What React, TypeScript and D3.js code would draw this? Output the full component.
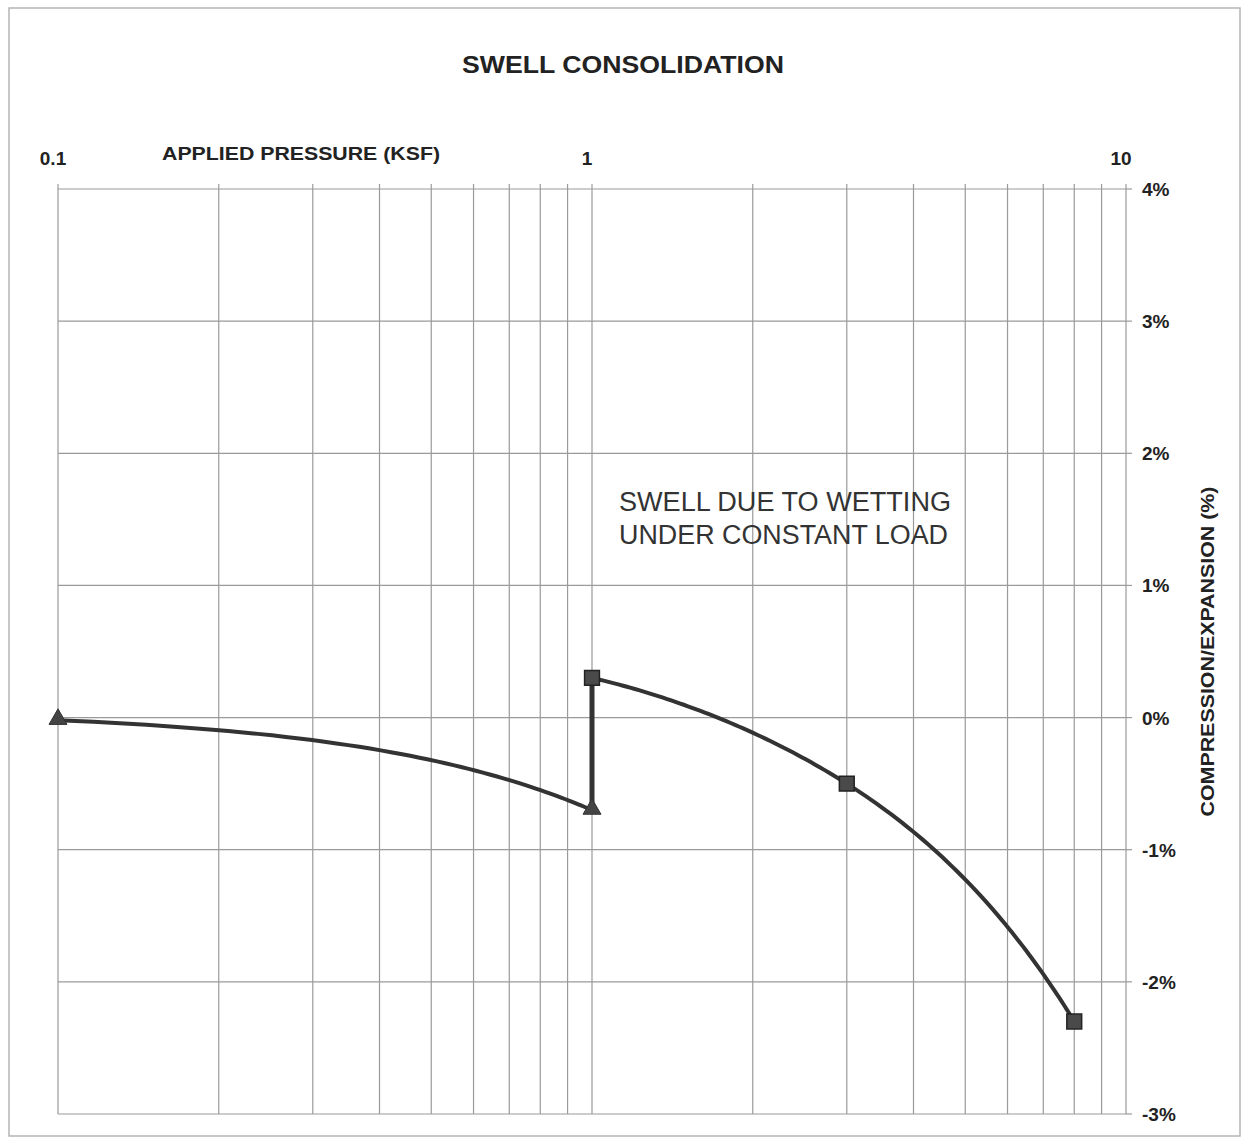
import React from "react";
import * as d3 from "d3";

const title = "SWELL CONSOLIDATION";
const xAxisTitle = "APPLIED PRESSURE (KSF)";
const yAxisTitle = "COMPRESSION/EXPANSION (%)";
const annotationLines = ["SWELL DUE TO WETTING", "UNDER CONSTANT LOAD"];

const xTickLabels = [0.1, 1, 10];
const yTickValues = [4, 3, 2, 1, 0, -1, -2, -3];

// Loading before wetting (triangles)
const dryPressure = [0.1, 1.0];
const dryStrain = [-0.02, -0.7];
// After wetting (squares)
const wetPressure = [1.0, 3.0, 8.0];
const wetStrain = [0.3, -0.5, -2.3];

const W = 1244;
const H = 1140;
const left = 58;
const right = 1126;
const top = 189;
const bottom = 1114;

const x = d3.scaleLog().domain([0.1, 10]).range([left, right]);
const y = d3.scaleLinear().domain([-3, 4]).range([bottom, top]);

// Catmull-Rom smoothing evaluated in linear data space (as the original plot was drawn), then projected
function smoothPath(px: number[], py: number[]): string {
  const pts: [number, number][] = px.map((p, i) => [p, py[i]]);
  const out: [number, number][] = [];
  const n = pts.length;
  if (n < 2) return "";
  for (let i = 0; i < n - 1; i++) {
    const p0 = pts[Math.max(0, i - 1)];
    const p1 = pts[i];
    const p2 = pts[i + 1];
    const p3 = pts[Math.min(n - 1, i + 2)];
    const steps = 60;
    for (let s = 0; s <= steps; s++) {
      if (i > 0 && s === 0) continue;
      const t = s / steps;
      const t2 = t * t;
      const t3 = t2 * t;
      const f = (a: number, b: number, c: number, d: number) =>
        0.5 * (2 * b + (-a + c) * t + (2 * a - 5 * b + 4 * c - d) * t2 + (-a + 3 * b - 3 * c + d) * t3);
      out.push([f(p0[0], p1[0], p2[0], p3[0]), f(p0[1], p1[1], p2[1], p3[1])]);
    }
  }
  const line = d3
    .line<[number, number]>()
    .x((d) => x(d[0]))
    .y((d) => y(d[1]))
    .curve(d3.curveLinear);
  return line(out) || "";
}

export default function App() {
  const minorTicks: number[] = [];
  for (const dec of [0.1, 1]) {
    for (let k = 1; k <= 10; k++) minorTicks.push(+(dec * k).toFixed(4));
  }
  const uniqTicks = Array.from(new Set(minorTicks));
  const font = "Arial, 'Liberation Sans', Helvetica, sans-serif";
  const lineColor = "#333";
  const gridColor = "#9a9a9a";

  const tri = d3.symbol().type(d3.symbolTriangle).size(140)() || "";
  const sq = d3.symbol().type(d3.symbolSquare).size(220)() || "";

  return (
    <svg
      width={W}
      height={H}
      style={{ position: "absolute", left: 0, top: 0, background: "#fff" }}
      fontFamily={font}
    >
      <rect x={9} y={8} width={1231} height={1128} fill="#fff" stroke="#b5b5b5" strokeWidth={1.5} />

      {/* vertical gridlines */}
      {uniqTicks.map((t) => (
        <line key={"v" + t} x1={x(t)} x2={x(t)} y1={top} y2={bottom} stroke={gridColor} strokeWidth={1.2} />
      ))}
      {/* horizontal gridlines */}
      {yTickValues.map((v) => (
        <line key={"h" + v} x1={left} x2={right} y1={y(v)} y2={y(v)} stroke={gridColor} strokeWidth={1.2} />
      ))}
      {/* top axis ticks */}
      {uniqTicks.map((t) => (
        <line key={"tt" + t} x1={x(t)} x2={x(t)} y1={top - 5} y2={top} stroke={gridColor} strokeWidth={1.2} />
      ))}
      {/* right axis ticks */}
      {yTickValues.map((v) => (
        <line key={"rt" + v} x1={right} x2={right + 6} y1={y(v)} y2={y(v)} stroke={gridColor} strokeWidth={1.2} />
      ))}

      {/* titles */}
      <text
        x={623}
        y={73}
        textAnchor="middle"
        fontSize={23}
        fontWeight="bold"
        fill="#222"
        textLength={322}
        lengthAdjust="spacingAndGlyphs"
      >
        {title}
      </text>
      <text
        x={301}
        y={160}
        textAnchor="middle"
        fontSize={19}
        fontWeight="bold"
        fill="#222"
        textLength={278}
        lengthAdjust="spacingAndGlyphs"
      >
        {xAxisTitle}
      </text>
      {xTickLabels.map((t) => (
        <text key={"xl" + t} x={x(t) - 5} y={165} textAnchor="middle" fontSize={19} fontWeight="bold" fill="#222">
          {String(t)}
        </text>
      ))}
      {yTickValues.map((v) => (
        <text key={"yl" + v} x={right + 16} y={y(v) + 7} textAnchor="start" fontSize={19} fontWeight="bold" fill="#222">
          {v + "%"}
        </text>
      ))}
      <text
        transform={`translate(1214, ${(top + bottom) / 2}) rotate(-90)`}
        textAnchor="middle"
        fontSize={18}
        fontWeight="bold"
        fill="#222"
        textLength={330}
        lengthAdjust="spacingAndGlyphs"
      >
        {yAxisTitle}
      </text>

      {/* annotation */}
      {annotationLines.map((s, i) => (
        <text
          key={s}
          x={619}
          y={511 + i * 33}
          fontSize={27}
          fill="#333"
          textLength={i === 0 ? 332 : 329}
          lengthAdjust="spacingAndGlyphs"
        >
          {s}
        </text>
      ))}

      {/* curves */}
      <path d={smoothPath(dryPressure, dryStrain)} fill="none" stroke={lineColor} strokeWidth={4} />
      <line
        x1={x(dryPressure[dryPressure.length - 1])}
        x2={x(wetPressure[0])}
        y1={y(dryStrain[dryStrain.length - 1])}
        y2={y(wetStrain[0])}
        stroke={lineColor}
        strokeWidth={5}
      />
      <path d={smoothPath(wetPressure, wetStrain)} fill="none" stroke={lineColor} strokeWidth={4} />

      {/* markers */}
      {dryPressure.map((p, i) => (
        <path
          key={"tri" + i}
          d={tri}
          transform={`translate(${x(p)}, ${y(dryStrain[i]) - 1})`}
          fill="#444"
          stroke="#333"
          strokeWidth={1}
        />
      ))}
      {wetPressure.map((p, i) => (
        <path
          key={"sq" + i}
          d={sq}
          transform={`translate(${x(p)}, ${y(wetStrain[i])})`}
          fill="#4a4a4a"
          stroke="#222"
          strokeWidth={1.5}
        />
      ))}
    </svg>
  );
}
